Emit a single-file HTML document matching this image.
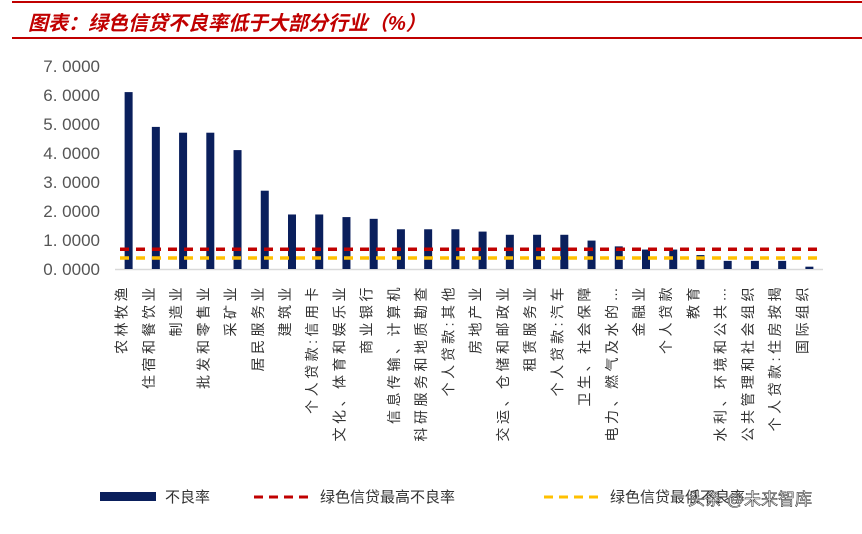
<!DOCTYPE html>
<html><head><meta charset="utf-8"><style>
body{margin:0;background:#fff;width:862px;height:529px;overflow:hidden;font-family:"Liberation Sans","Noto Sans CJK SC",sans-serif;}
svg text{font-family:"Liberation Sans","Noto Sans CJK SC",sans-serif;}
</style></head><body>
<svg width="862" height="529">
<line x1="12" y1="2" x2="862" y2="2" stroke="#c00000" stroke-width="2"/>
<text x="28" y="30" fill="#c00000" font-size="20" font-weight="bold" font-style="italic" font-family="'Noto Serif CJK SC',serif">图表：绿色信贷不良率低于大部分行业（%）</text>
<line x1="12" y1="38" x2="862" y2="38" stroke="#c00000" stroke-width="2"/>
<g id="yaxis"></g>
<g id="bars"></g>
<g id="lines"></g>
<g id="xlabels"></g>
<g>
<rect x="100" y="492" width="56" height="9" fill="#0a1f5c"/>
<text x="165" y="502" font-size="15" fill="#333">不良率</text>
<line x1="254" y1="497" x2="312" y2="497" stroke="#c00000" stroke-width="3" stroke-dasharray="9,6"/>
<text x="320" y="502" font-size="15" fill="#333">绿色信贷最高不良率</text>
<line x1="544" y1="497" x2="602" y2="497" stroke="#ffc000" stroke-width="3" stroke-dasharray="9,6"/>
<text x="610" y="502" font-size="15" fill="#333">绿色信贷最低不良率</text>
</g>
<text x="688" y="505" font-size="17" fill="#fff" stroke="#333" stroke-width="0.6">头条 @未来智库</text>
</svg>
<script>
const categories=["农林牧渔","住宿和餐饮业","制造业","批发和零售业","采矿业","居民服务业","建筑业","个人贷款:信用卡","文化、体育和娱乐业","商业银行","信息传输、计算机","科研服务和地质勘查","个人贷款:其他","房地产业","交运、仓储和邮政业","租赁服务业","个人贷款:汽车","卫生、社会保障","电力、燃气及水的…","金融业","个人贷款","教育","水利、环境和公共…","公共管理和社会组织","个人贷款:住房按揭","国际组织"];
const values=[6.1,4.9,4.7,4.7,4.1,2.7,1.88,1.88,1.79,1.73,1.37,1.37,1.37,1.29,1.18,1.18,1.18,0.98,0.78,0.67,0.67,0.48,0.28,0.28,0.28,0.08];
const maxGreen=0.68;
const minGreen=0.38;
const yTicks=[0,1,2,3,4,5,6,7];
const NS="http://www.w3.org/2000/svg";
const x0=115,x1=823,yBase=269,pxPer=29;
const step=(x1-x0)/categories.length;
const xC=i=>x0+step*(i+0.5);
const yS=v=>yBase-v*pxPer;
function mk(t,a,p){const e=document.createElementNS(NS,t);for(const k in a)e.setAttribute(k,a[k]);p.appendChild(e);return e;}
const ya=document.getElementById('yaxis');
yTicks.forEach(v=>{const t=mk('text',{x:100,y:yS(v)+6,'text-anchor':'end','font-size':'17',fill:'#555'},ya);


t.textContent=v.toFixed(4).replace('.','. ');});
const ax=mk('line',{x1:x0,y1:yBase+0.5,x2:x1,y2:yBase+0.5,stroke:'#d9d9d9','stroke-width':1.5},ya);


const bg=document.getElementById('bars');
values.forEach((v,i)=>{const r=mk('rect',{x:xC(i)-4,y:yS(v),width:8,height:v*pxPer,fill:'#0a1f5c'},bg);

});
const lg=document.getElementById('lines');
[[maxGreen,'#c00000','max-green-npl-line'],[minGreen,'#ffc000','min-green-npl-line']].forEach(([v,c,n])=>{
const l=mk('line',{x1:x0+5,y1:yS(v),x2:x1,y2:yS(v),stroke:c,'stroke-width':3.5,'stroke-dasharray':'9,7'},lg);

});
const xl=document.getElementById('xlabels');
categories.forEach((c,i)=>{const x=xC(i)-2,y=284;
const t=mk('text',{x:x,y:y,'font-size':'14',fill:'#333','text-anchor':'end','letter-spacing':'3.5','font-family':"'Liberation Serif','Noto Serif CJK SC',serif",transform:`rotate(-90 ${x} ${y})`},xl);


t.textContent=c;});
</script>
</body></html>
